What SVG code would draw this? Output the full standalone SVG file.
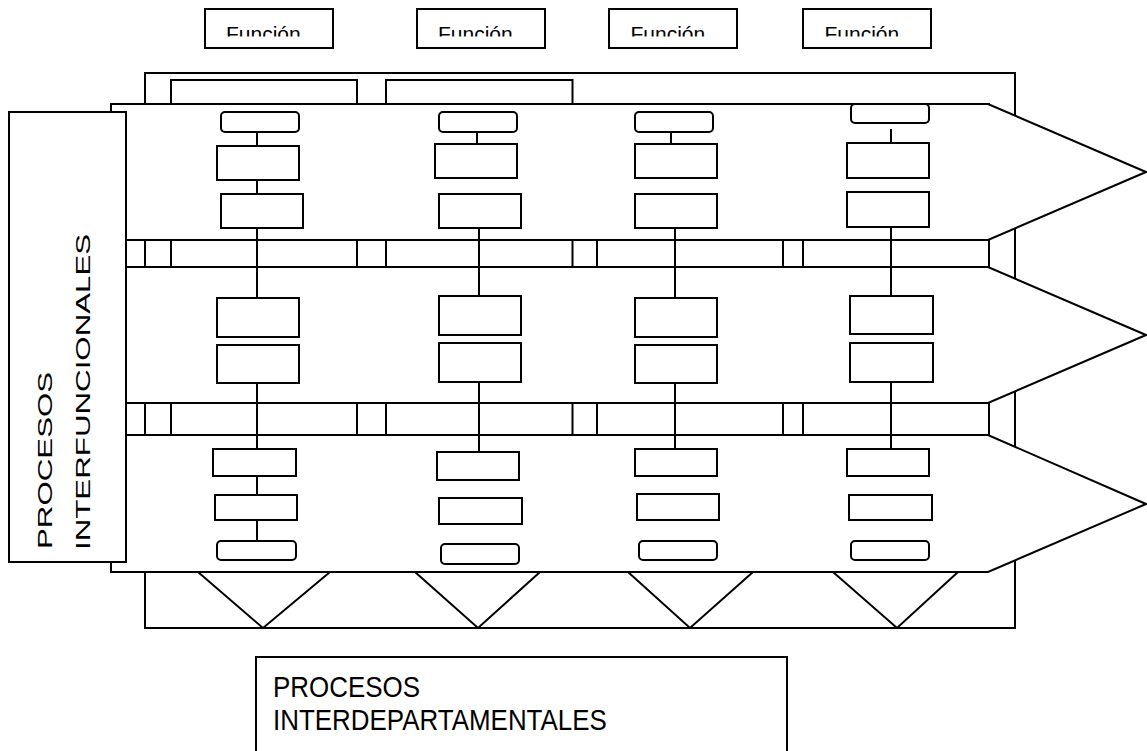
<svg xmlns="http://www.w3.org/2000/svg" width="1147" height="751" viewBox="0 0 1147 751">
<style>
.s{fill:#fff;stroke:#000;stroke-width:2}
.n{fill:none;stroke:#000;stroke-width:2}
.l{stroke:#000;stroke-width:2;fill:none}
text{font-family:"Liberation Sans",Arial,sans-serif;fill:#000}
</style>
<defs>
<clipPath id="fclip" clipPathUnits="userSpaceOnUse"><rect x="0" y="0" width="1147" height="36.5"/></clipPath>
</defs>
<rect width="1147" height="751" fill="#fff"/>
<g id="frame">
<rect class="s" x="145" y="73" width="870" height="555"/>
<rect class="s" x="171" y="80" width="186" height="491"/>
<rect class="s" x="386" y="80" width="186.5" height="491"/>
<rect class="s" x="597" y="104" width="186" height="467"/>
<rect class="s" x="803" y="104" width="186" height="467"/>
</g>
<g id="bands">
<polygon class="s" points="111,104 988,104 1146,172 988,240 111,240"/>
<polygon class="s" points="111,267 988,267 1146,335 988,403 111,403"/>
<polygon class="s" points="111,435 988,435 1146,504 988,572 111,572"/>
<line class="l" x1="989" y1="240" x2="989" y2="267"/>
<line class="l" x1="989" y1="403" x2="989" y2="435"/>
</g>
<g id="funnels">
<polyline class="n" points="198,572 263,628 330,572"/>
<polyline class="n" points="415,572 478,628 540,572"/>
<polyline class="n" points="628,572 690,628 753,572"/>
<polyline class="n" points="833,572 897,628 958,572"/>
</g>
<g id="connectors">
<line class="l" x1="257" y1="132" x2="257" y2="146"/>
<line class="l" x1="257" y1="180" x2="257" y2="194"/>
<line class="l" x1="257" y1="228" x2="257" y2="298"/>
<line class="l" x1="257" y1="383" x2="257" y2="449"/>
<line class="l" x1="257" y1="476" x2="257" y2="495"/>
<line class="l" x1="257" y1="520" x2="257" y2="541"/>
<line class="l" x1="477" y1="132" x2="477" y2="146"/>
<line class="l" x1="479" y1="226" x2="479" y2="296"/>
<line class="l" x1="479" y1="382" x2="479" y2="457"/>
<line class="l" x1="671" y1="132" x2="671" y2="149"/>
<line class="l" x1="675" y1="228" x2="675" y2="298"/>
<line class="l" x1="675" y1="383" x2="675" y2="453"/>
<line class="l" x1="891" y1="129" x2="891" y2="147"/>
<line class="l" x1="891" y1="226" x2="891" y2="296"/>
<line class="l" x1="891" y1="382" x2="891" y2="452"/>
</g>
<g id="col1">
<rect class="s" x="221" y="112" width="78" height="20" rx="4"/>
<rect class="s" x="217" y="146" width="82" height="34"/>
<rect class="s" x="221" y="194" width="82" height="34"/>
<rect class="s" x="217" y="298" width="82" height="39"/>
<rect class="s" x="217" y="345" width="82" height="38"/>
<rect class="s" x="213" y="449" width="83" height="27"/>
<rect class="s" x="215" y="495" width="82" height="25"/>
<rect class="s" x="217" y="541" width="79" height="19" rx="4"/>
</g>
<g id="col2">
<rect class="s" x="439" y="112" width="78" height="20" rx="4"/>
<rect class="s" x="435" y="144" width="82" height="34"/>
<rect class="s" x="439" y="194" width="82" height="34"/>
<rect class="s" x="439" y="296" width="82" height="39"/>
<rect class="s" x="439" y="343" width="82" height="39"/>
<rect class="s" x="437" y="452" width="82" height="28"/>
<rect class="s" x="439" y="498" width="83" height="26"/>
<rect class="s" x="441" y="544" width="78" height="20" rx="4"/>
</g>
<g id="col3">
<rect class="s" x="635" y="112" width="78" height="20" rx="4"/>
<rect class="s" x="635" y="144" width="82" height="34"/>
<rect class="s" x="635" y="194" width="82" height="34"/>
<rect class="s" x="635" y="298" width="82" height="39"/>
<rect class="s" x="635" y="345" width="82" height="38"/>
<rect class="s" x="635" y="449" width="82" height="27"/>
<rect class="s" x="637" y="494" width="82" height="26"/>
<rect class="s" x="639" y="541" width="78" height="19" rx="4"/>
</g>
<g id="col4">
<rect class="s" x="851" y="104" width="78" height="19" rx="4"/>
<rect class="s" x="847" y="143" width="82" height="35"/>
<rect class="s" x="847" y="192" width="82" height="35"/>
<rect class="s" x="850" y="296" width="83" height="38"/>
<rect class="s" x="850" y="343" width="83" height="39"/>
<rect class="s" x="847" y="449" width="82" height="27"/>
<rect class="s" x="849" y="495" width="83" height="25"/>
<rect class="s" x="851" y="541" width="78" height="19" rx="4"/>
</g>
<g id="interfuncionales">
<rect class="s" x="9" y="112" width="117" height="450"/>
<text font-size="21" transform="translate(52,549) rotate(-90) scale(1.49,1)">PROCESOS</text>
<text font-size="21" transform="translate(89.5,550) rotate(-90) scale(1.49,1)">INTERFUNCIONALES</text>
</g>
<g id="funciones">
<rect class="s" x="205" y="9" width="128" height="39"/>
<rect class="s" x="417" y="9" width="128" height="39"/>
<rect class="s" x="609" y="9" width="128" height="39"/>
<rect class="s" x="803" y="9" width="128" height="39"/>
<g clip-path="url(#fclip)" font-size="21">
<text x="226" y="41">Función</text>
<text x="438" y="41">Función</text>
<text x="630.5" y="41">Función</text>
<text x="824.5" y="41">Función</text>
</g>
</g>
<g id="interdepartamentales">
<rect class="s" x="256" y="657" width="531" height="110"/>
<text font-size="30" transform="translate(273,697) scale(0.865,1)">PROCESOS</text>
<text font-size="30" transform="translate(273,730) scale(0.865,1)">INTERDEPARTAMENTALES</text>
</g>
</svg>
